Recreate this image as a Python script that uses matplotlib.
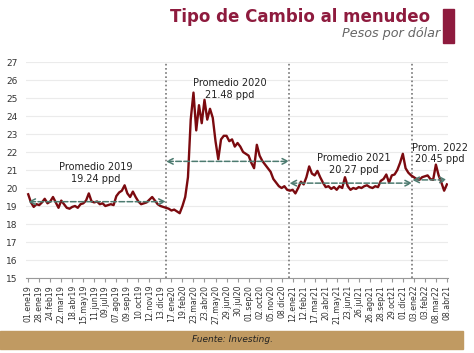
import numpy as np
import matplotlib
matplotlib.use('Agg')
import matplotlib.pyplot as plt
from matplotlib.patches import Rectangle

# Tipo de cambio, un valor cada 5 dias habiles
tipo_cambio = [
    19.65, 19.2, 18.95, 19.1, 19.05, 19.2, 19.4, 19.15, 19.25, 19.5,
    19.2, 18.9, 19.3, 19.1, 18.9, 18.85, 18.95, 19.0, 18.9, 19.1,
    19.15, 19.3, 19.7, 19.25, 19.2, 19.25, 19.1, 19.15, 19.0, 19.05,
    19.1, 19.05, 19.55, 19.75, 19.85, 20.15, 19.7, 19.5, 19.8, 19.5,
    19.25, 19.1, 19.15, 19.2, 19.35, 19.5, 19.3, 19.1, 19.0, 18.95,
    18.9, 18.85, 18.75, 18.8, 18.7, 18.6, 19.0, 19.5, 20.6, 23.8,
    25.3, 23.2, 24.6, 23.6, 24.9, 23.8, 24.4, 23.9, 22.6, 21.6,
    22.7, 22.9, 22.9, 22.6, 22.7, 22.3, 22.5, 22.3, 22.0, 21.9,
    21.8, 21.4, 21.1, 22.4, 21.8, 21.5, 21.3, 21.1, 20.9, 20.5,
    20.3, 20.1, 20.0, 20.1, 19.9, 19.85, 19.9, 19.7, 20.0, 20.35,
    20.2, 20.6, 21.2, 20.8, 20.7, 20.95, 20.6, 20.3, 20.05, 20.1,
    19.95, 20.05, 19.9, 20.1, 20.0, 20.6, 20.1, 19.9, 20.0, 19.95,
    20.05, 20.0, 20.1, 20.15, 20.05, 20.0, 20.1, 20.05, 20.4, 20.5,
    20.75, 20.3, 20.7, 20.75, 21.0, 21.4, 21.9, 21.1, 20.85, 20.7,
    20.6, 20.5, 20.45, 20.6, 20.65, 20.7, 20.5, 20.45, 21.3, 20.7,
    20.3, 19.85, 20.2,
]
paso = 5

etiquetas_x = [
    '01.ene19', '28.ene19', '24.feb19', '22.mar19', '18.abr19', '15.may19',
    '11.jun19', '09.jul19', '07.ago19', '09.sep19', '10.oct19', '12.nov19',
    '13.dic19', '17.ene20', '19.feb20', '23.mar20', '23.abr20', '27.may20',
    '29.jun20', '30.jul20', '01.sep20', '02.oct20', '05.nov20', '08.dic20',
    '12.ene21', '12.feb21', '17.mar21', '20.abr21', '21.may21', '23.jun21',
    '26.jul21', '26.ago21', '28.sep21', '29.oct21', '01.dic21', '03.ene22',
    '03.feb22', '08.mar22', '08.abr21',
]
paso_etiqueta = 20

# inicio de cada año (en dias habiles) y promedio anual
inicio_anio = [0, 250, 474, 697, 760]
promedios = [19.24, 21.48, 20.27, 20.45]
textos_prom = ['Promedio 2019\n19.24 ppd', 'Promedio 2020\n21.48 ppd',
               'Promedio 2021\n20.27 ppd', 'Prom. 2022\n20.45 ppd']
pos_textos = [(123, 20.83), (366, 25.5), (591, 21.33), (747, 21.9)]

GUINDA = '#8e1b3e'
LINEA = '#7b0a0f'
VERDE = '#4d7b70'

fig = plt.figure(figsize=(4.74, 3.53), dpi=100)
ax = fig.add_axes([26 / 474, 1 - 278 / 353, 422 / 474, 216 / 353])

x = np.arange(len(tipo_cambio)) * paso
ax.plot(x, tipo_cambio, color=LINEA, lw=1.7, zorder=3)

ax.set_xlim(-4, 762)
ax.set_ylim(15, 27)
ax.set_yticks(range(15, 28))
ax.grid(axis='y', color='#ebebeb', lw=0.8)
ax.set_axisbelow(True)

ax.set_xticks(np.arange(len(etiquetas_x)) * paso_etiqueta)
ax.set_xticklabels(etiquetas_x, rotation=90, fontsize=5.6, color='#333333')
ax.tick_params(axis='x', direction='out', length=3, color='#999999', pad=2)
ax.tick_params(axis='y', length=0, labelsize=6.5, labelcolor='#333333', pad=6)
for s in ['top', 'right', 'left']:
    ax.spines[s].set_visible(False)
ax.spines['bottom'].set_color('#999999')

# divisiones por año
for xv in inicio_anio[1:-1]:
    ax.axvline(xv, color='#777777', ls=(0, (1, 1.5)), lw=1.2, zorder=2)

# promedios anuales
for i, prom in enumerate(promedios):
    ax.annotate('', xy=(inicio_anio[i + 1], prom), xytext=(inicio_anio[i], prom),
                arrowprops=dict(arrowstyle='<->', color=VERDE, lw=1.1, ls='--',
                                shrinkA=0, shrinkB=0), zorder=4)
    ax.text(pos_textos[i][0], pos_textos[i][1], textos_prom[i], ha='center', va='center',
            fontsize=7, color='#222222', linespacing=1.15, clip_on=False)

# encabezado
fig.text(430 / 474, 1 - 16.5 / 353, 'Tipo de Cambio al menudeo', ha='right', va='center',
         fontsize=12, fontweight='bold', color=GUINDA)
fig.text(440 / 474, 1 - 33.5 / 353, 'Pesos por dólar', ha='right', va='center',
         fontsize=9.2, style='italic', color='#666666')
fig.patches.append(Rectangle((443 / 474, 1 - 43 / 353), 11 / 474, 34 / 353,
                             transform=fig.transFigure, color=GUINDA))

# pie
fig.patches.append(Rectangle((0, 1 - 349 / 353), 463 / 474, 18 / 353,
                             transform=fig.transFigure, color='#c09a62'))
fig.text(232 / 474, 1 - 340 / 353, 'Fuente: Investing.', ha='center', va='center',
         fontsize=6.5, style='italic', color='#222222')

fig.savefig('out.png', dpi=100)
